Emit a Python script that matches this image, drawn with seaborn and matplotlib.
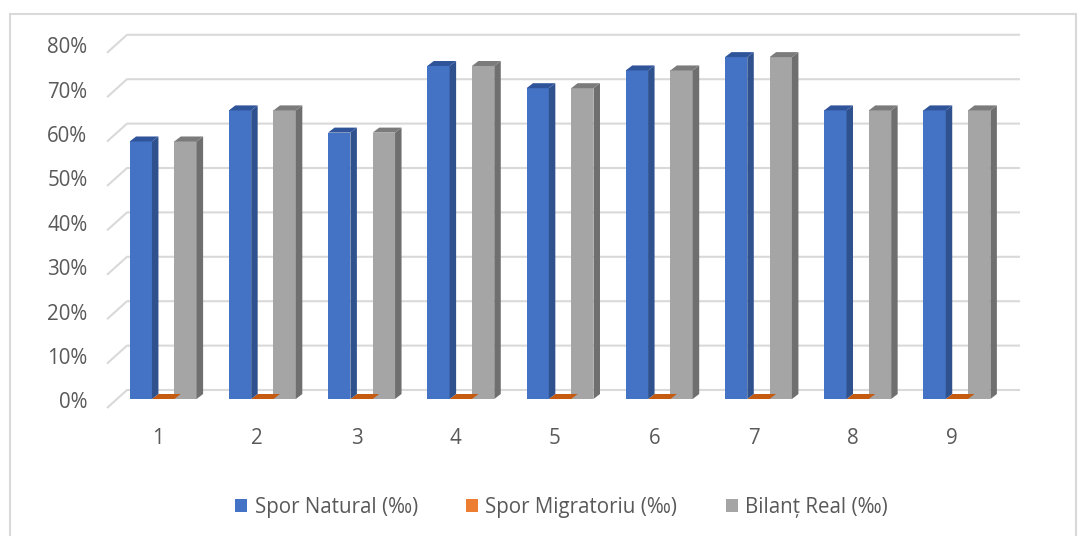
import numpy as np
import pandas as pd
import seaborn as sns
import matplotlib
matplotlib.use("Agg")
import matplotlib.pyplot as plt
from matplotlib.patches import Polygon, Patch, Rectangle

# ---- data -------------------------------------------------------------
categories = ["1", "2", "3", "4", "5", "6", "7", "8", "9"]
spor_natural = [0.58, 0.65, 0.60, 0.75, 0.70, 0.74, 0.77, 0.65, 0.65]
spor_migratoriu = [0.0, 0.0, 0.0, 0.0, 0.0, 0.0, 0.0, 0.0, 0.0]
bilant_real = [0.58, 0.65, 0.60, 0.75, 0.70, 0.74, 0.77, 0.65, 0.65]
series_names = ["Spor Natural (‰)", "Spor Migratoriu (‰)", "Bilanț Real (‰)"]
y_ticks = [0.0, 0.1, 0.2, 0.3, 0.4, 0.5, 0.6, 0.7, 0.8]

df = pd.DataFrame({
    "cat": categories * 3,
    "val": spor_natural + spor_migratoriu + bilant_real,
    "series": np.repeat(series_names, len(categories)),
})

# front / side / top shades for the pseudo-3D columns
front_cols = ["#4472C4", "#ED7D31", "#A5A5A5"]
side_cols = ["#2F528F", "#AE5A21", "#6F6F6F"]
top_cols = ["#30549A", "#C55A11", "#7B7B7B"]
text_col = "#595959"
grid_col = "#D9D9D9"
FS = 14.8

sns.set_theme(style="white")
plt.rcParams["font.family"] = ["Open Sans", "DejaVu Sans"]

W, H, DPI = 1088, 536, 100
fig = plt.figure(figsize=(W / DPI, H / DPI), dpi=DPI)

# axes = the mid-depth plane on which the column fronts sit (pixel layout)
ax_left, ax_right = 113.5, 1006.5
ax_base, ax_top = 399.0, 43.8
ax = fig.add_axes([ax_left / W, (H - ax_base) / H,
                   (ax_right - ax_left) / W, (ax_base - ax_top) / H])

sns.barplot(data=df, x="cat", y="val", hue="series", palette=front_cols,
            width=0.675, dodge=True, ax=ax, legend=False, saturation=1,
            linewidth=0, zorder=3)
ax.set_xlim(-0.5, len(categories) - 0.5)
ax.set_ylim(0, 0.8)
for s in ax.spines.values():
    s.set_visible(False)
ax.set_xticks([])
ax.set_yticks([])
ax.set_xlabel("")
ax.set_ylabel("")
ax.patch.set_alpha(0)

# data units per pixel
fig.canvas.draw()
bb = ax.get_window_extent()
sx = (ax.get_xlim()[1] - ax.get_xlim()[0]) / bb.width
sy = (ax.get_ylim()[1] - ax.get_ylim()[0]) / bb.height

# floor / wall gridlines: slanted piece on the left, horizontal along the wall
front_dx, front_dy = -6.5, -9.0     # pixel offsets from the mid plane (mpl: y up)
back_dx, back_dy = 13.5, 9.0
x0 = ax.get_xlim()[0]
x1 = ax.get_xlim()[1]
for v in y_ticks:
    xs = [x0 + front_dx * sx, x0 + back_dx * sx, x1 + back_dx * sx]
    ys = [v + front_dy * sy, v + back_dy * sy, v + back_dy * sy]
    ax.plot(xs, ys, color=grid_col, lw=1.5, zorder=0, clip_on=False,
            solid_capstyle="butt")
    ax.text(x0 - 26 * sx, v - 4 * sy, f"{int(round(v * 100))}%",
            ha="right", va="center", fontsize=FS, color=text_col)

# side and top faces of each column
ddx, ddy = 6.5 * sx, 5.0 * sy
n = len(categories)
for i, bar in enumerate(ax.patches):
    k = i // n
    xl = bar.get_x()
    xr = xl + bar.get_width()
    h = bar.get_height()
    if h > 0:
        side = Polygon([(xr, 0), (xr, h), (xr + ddx, h + ddy), (xr + ddx, ddy)],
                       closed=True, facecolor=side_cols[k], edgecolor="none",
                       zorder=3.2, clip_on=False)
        ax.add_patch(side)
    top = Polygon([(xl, h), (xr, h), (xr + ddx, h + ddy), (xl + ddx, h + ddy)],
                  closed=True, facecolor=top_cols[k], edgecolor="none",
                  zorder=3.1 if h == 0 else 3.3, clip_on=False)
    ax.add_patch(top)

# category labels below the floor
for j, c in enumerate(categories):
    ax.text(j - 5 * sx, -39 * sy, c, ha="center", va="center",
            fontsize=FS, color=text_col)

# legend
handles = [Patch(facecolor=c, edgecolor="none") for c in front_cols]
leg = fig.legend(handles, series_names, loc="center", ncol=3,
                 bbox_to_anchor=(0.516, 1 - 507 / H), frameon=False,
                 fontsize=FS, handlelength=0.6, handleheight=0.6,
                 handletextpad=0.35, columnspacing=2.35)
for t in leg.get_texts():
    t.set_color(text_col)

# chart area border
fig.add_artist(Rectangle((10 / W, -0.01), (1076 - 10) / W, 1 - 14 / H + 0.01,
                         transform=fig.transFigure, fill=False,
                         edgecolor=grid_col, lw=1.5))

fig.savefig("out.png", dpi=DPI)
